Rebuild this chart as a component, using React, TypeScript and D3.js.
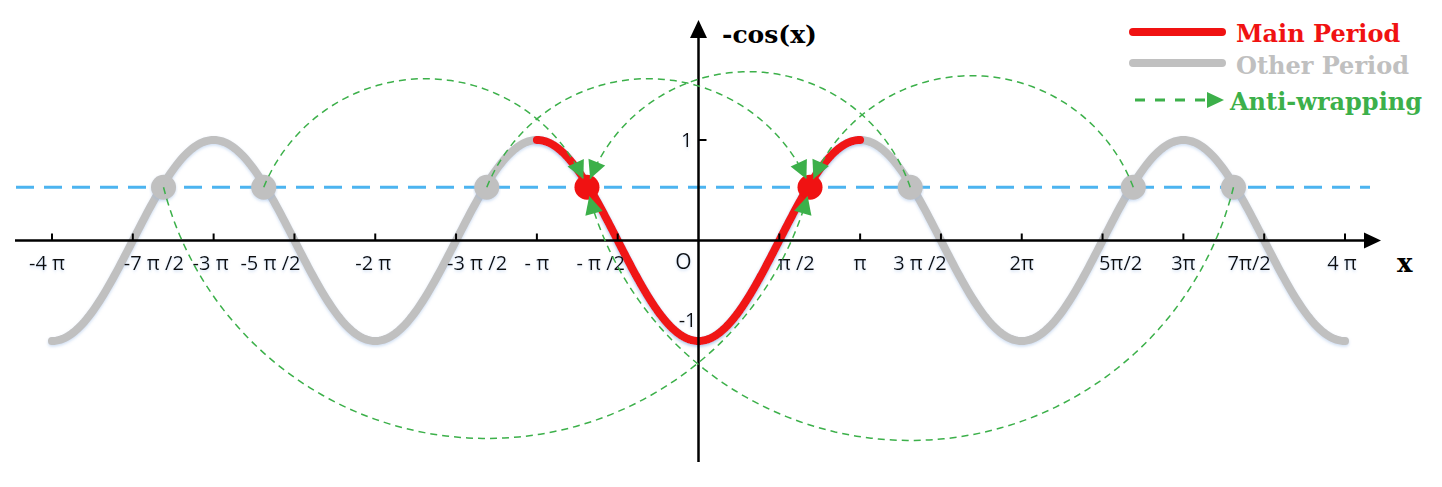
import React from "react";
import * as d3 from "d3";

// ---------- data ----------
const PI = Math.PI;
const fullPeriodRange = [-4, 4]; // in units of π
const mainPeriodRange = [-1, 1]; // in units of π
const tickMultiples = [-4, -3.5, -3, -2.5, -2, -1.5, -1, -0.5, 0.5, 1, 1.5, 2, 2.5, 3, 3.5, 4];
const tickLabels = ["-4 π", "-7 π /2", "-3 π", "-5 π /2", "-2 π", "-3 π /2", "- π", "- π /2", "π /2", "π", "3 π /2", "2π", "5π/2", "3π", "7π/2", "4 π"];
const yTickValues = [1, -1];
const yTickLabels = ["1", "-1"];
const levelValue = 0.53;
const redDotX = [-0.69, 0.69];
const grayDotX = [-3.31, -2.69, -1.31, 1.31, 2.69, 3.31];
const arcFromX = [-3.31, -2.69, -1.31, 1.31, 2.69, 3.31];
const arcToX = [0.69, -0.69, 0.69, -0.69, 0.69, -0.69];
const arcApexY = [-1.97, 1.61, 1.61, 1.68, 1.64, -1.99];
const legendLabels = ["Main Period", "Other Period", "Anti-wrapping"];

// ---------- layout ----------
const W = 1442;
const H = 487;
const tickLabelNudge = [-5, 21, -3, -24, -2, 21, 0, -17, 17, 0, -21, 0, 18, 0, -15, -3];
const RED = "#f01212";
const GRAY = "#c0c0c0";
const GREEN = "#3cb04a";
const BLUE = "#4cb4f0";
const labelFont = "'Open Sans', 'DejaVu Sans', sans-serif";
const serifFont = "'DejaVu Serif', serif";

const xS = d3.scaleLinear().domain([fullPeriodRange[0] * PI, fullPeriodRange[1] * PI]).range([52, 1345]);
const yS = d3.scaleLinear().domain([-1, 1]).range([341, 140]);
const x0 = xS(0);
const y0 = yS(0);

const f = (x: number) => -Math.cos(x);
function sampleCurve(a: number, b: number): [number, number][] {
  const n = 600;
  return d3.range(n + 1).map((i) => {
    const x = a * PI + ((b - a) * PI * i) / n;
    return [x, f(x)] as [number, number];
  });
}
const line = d3
  .line<[number, number]>()
  .x((d) => xS(d[0]))
  .y((d) => yS(d[1]));

const tipGap = 9;
const arrowLen = 18;
const arrowHalf = 9;

function arcGeom(a: number, b: number, apex: number) {
  const p1 = [xS(a * PI), yS(levelValue)];
  const p2 = [xS(b * PI), yS(levelValue)];
  const ya = yS(apex);
  const h = Math.abs(ya - p1[1]);
  const d = Math.abs(p2[0] - p1[0]) / 2;
  const R = (d * d + h * h) / (2 * h);
  const cx = (p1[0] + p2[0]) / 2;
  const cy = ya < p1[1] ? ya + R : ya - R;
  const t1 = Math.atan2(p1[1] - cy, p1[0] - cx);
  const t2 = Math.atan2(p2[1] - cy, p2[0] - cx);
  let delta = t2 - t1;
  while (delta > PI) delta -= 2 * PI;
  while (delta <= -PI) delta += 2 * PI;
  const s = Math.sign(delta);
  const trim = 2 * Math.asin(tipGap / (2 * R));
  const tEnd = t1 + delta - s * trim;
  const n = 120;
  const pts: [number, number][] = d3.range(n + 1).map((i) => {
    const t = t1 + ((tEnd - t1) * i) / n;
    return [cx + R * Math.cos(t), cy + R * Math.sin(t)];
  });
  const tip = pts[n];
  const u = [-Math.sin(tEnd) * s, Math.cos(tEnd) * s];
  const nv = [-u[1], u[0]];
  const base = [tip[0] - arrowLen * u[0], tip[1] - arrowLen * u[1]];
  const head = [
    tip,
    [base[0] + arrowHalf * nv[0], base[1] + arrowHalf * nv[1]],
    [base[0] - arrowHalf * nv[0], base[1] - arrowHalf * nv[1]],
  ];
  return { path: d3.line()(pts as [number, number][]) || "", head: head.map((p) => p.join(",")).join(" ") };
}

export default function App() {
  const grayPath = line(sampleCurve(fullPeriodRange[0], fullPeriodRange[1])) || "";
  const redPath = line(sampleCurve(mainPeriodRange[0], mainPeriodRange[1])) || "";
  const arcs = arcFromX.map((a, i) => arcGeom(a, arcToX[i], arcApexY[i]));
  const yLevel = yS(levelValue);

  return (
    <svg
      width={W}
      height={H}
      style={{ position: "absolute", left: 0, top: 0, background: "#fff" }}
      xmlns="http://www.w3.org/2000/svg"
    >
      <defs>
        <filter id="glow" x="-5%" y="-20%" width="110%" height="140%">
          <feDropShadow dx="0" dy="1.5" stdDeviation="1.6" floodColor="#8fb3e3" floodOpacity="0.45" />
        </filter>
      </defs>

      {/* level line */}
      <line x1={16} x2={1370} y1={yLevel} y2={yLevel} stroke={BLUE} strokeWidth={3} strokeDasharray="18 10" />

      {/* curves */}
      <path d={grayPath} fill="none" stroke={GRAY} strokeWidth={8} strokeLinecap="round" filter="url(#glow)" />
      <path d={redPath} fill="none" stroke={RED} strokeWidth={8} strokeLinecap="round" filter="url(#glow)" />

      {/* axes */}
      <line x1={15} x2={1366} y1={y0} y2={y0} stroke="#000" strokeWidth={2.5} />
      <polygon points={`${1381},${y0} ${1364},${y0 - 8} ${1364},${y0 + 8}`} fill="#000" />
      <line x1={x0} x2={x0} y1={462} y2={36} stroke="#000" strokeWidth={2.5} />
      <polygon points={`${x0},${20} ${x0 - 8.5},${38} ${x0 + 8.5},${38}`} fill="#000" />
      {tickMultiples.map((m, i) => (
        <line key={"t" + i} x1={xS(m * PI)} x2={xS(m * PI)} y1={y0 - 7} y2={y0} stroke="#000" strokeWidth={2} />
      ))}
      <line x1={x0} x2={x0 + 8} y1={yS(1)} y2={yS(1)} stroke="#000" strokeWidth={2} />

      {/* tick labels */}
      <g fontFamily={labelFont} fontSize={20} fill="#111" filter="url(#glow)">
        {tickMultiples.map((m, i) => (
          <text key={"l" + i} x={xS(m * PI) + tickLabelNudge[i]} y={270} textAnchor="middle">
            {tickLabels[i]}
          </text>
        ))}
        <text x={x0 - 15} y={269} textAnchor="middle" fontSize={21}>O</text>
        <text x={x0 - 6} y={yS(yTickValues[0]) + 7} textAnchor="end">{yTickLabels[0]}</text>
        <text x={x0 - 2} y={yS(yTickValues[1]) - 14} textAnchor="end">{yTickLabels[1]}</text>
      </g>

      {/* dots */}
      {grayDotX.map((x, i) => (
        <circle key={"g" + i} cx={xS(x * PI)} cy={yLevel} r={12.5} fill={GRAY} filter="url(#glow)" />
      ))}
      {redDotX.map((x, i) => (
        <circle key={"r" + i} cx={xS(x * PI)} cy={yLevel} r={12.5} fill={RED} />
      ))}

      {/* anti-wrapping arcs */}
      {arcs.map((a, i) => (
        <g key={"a" + i}>
          <path d={a.path} fill="none" stroke={GREEN} strokeWidth={1.5} strokeDasharray="7 5" />
          <polygon points={a.head} fill={GREEN} />
        </g>
      ))}

      {/* axis titles */}
      <text x={722} y={43} fontFamily={serifFont} fontWeight="bold" fontSize={25} fill="#000">-cos(x)</text>
      <text x={1397} y={272} fontFamily={serifFont} fontWeight="bold" fontSize={26} fill="#000">x</text>

      {/* legend */}
      <line x1={1133} x2={1222} y1={32} y2={32} stroke={RED} strokeWidth={8} strokeLinecap="round" />
      <text x={1236} y={42} fontFamily={serifFont} fontWeight="bold" fontSize={24} fill={RED}>{legendLabels[0]}</text>
      <line x1={1133} x2={1222} y1={63} y2={63} stroke={GRAY} strokeWidth={8} strokeLinecap="round" />
      <text x={1236} y={74} fontFamily={serifFont} fontWeight="bold" fontSize={24} fill={GRAY}>{legendLabels[1]}</text>
      <line x1={1135} x2={1210} y1={100} y2={100} stroke={GREEN} strokeWidth={3} strokeDasharray="10 10" />
      <polygon points={`1224,100 1207,92 1207,108`} fill={GREEN} />
      <text x={1230} y={110} fontFamily={serifFont} fontWeight="bold" fontSize={24} fill={GREEN}>{legendLabels[2]}</text>
    </svg>
  );
}
